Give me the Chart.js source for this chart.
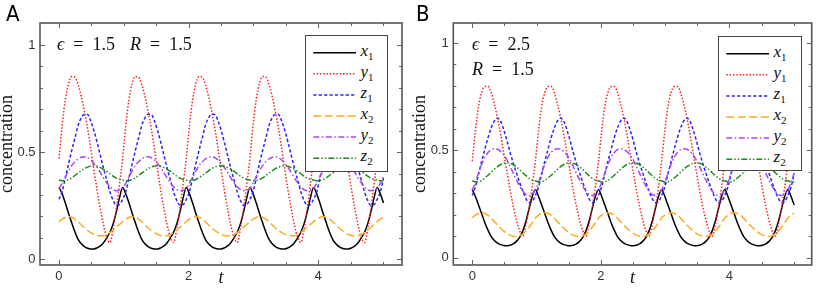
<!DOCTYPE html>
<html>
<head>
<meta charset="utf-8">
<script src="https://cdn.jsdelivr.net/npm/chart.js@4.4.1/dist/chart.umd.min.js"></script>
<style>
  html, body { margin: 0; padding: 0; background: #fff; }
  body { width: 817px; height: 288px; position: relative; overflow: hidden; }
  .panel { position: absolute; top: 0; height: 288px; }
  .panel canvas { position: absolute; left: 0; top: 0; }
  .tag { position: absolute; left: 6px; top: 3px; font: 22px/22px 'Liberation Sans Narrow', 'DejaVu Sans Condensed', 'Liberation Sans', sans-serif; color: #000; }
  .note { position: absolute; font: 18px/18px 'Liberation Serif', serif; color: #111; white-space: nowrap; }
  .legend { position: absolute; box-sizing: border-box; background: #fff; border: 1.5px solid #444; }
  .legend svg { position: absolute; }
  .legend .lab { position: absolute; font: italic 17px/17px 'Liberation Serif', serif; color: #111; white-space: nowrap; }
  .legend .lab sub { font-style: normal; font-size: 11px; vertical-align: -4px; line-height: 0; }
</style>
</head>
<body>
<div class="panel" style="left:0;width:410px">
  <canvas id="chartA" width="410" height="288"></canvas>
  <div class="tag">A</div>
  <div class="note" style="left:57px;top:35px"><i>ϵ</i>&ensp;=&ensp;1.5</div>
  <div class="note" style="left:130px;top:35px"><i>R</i>&ensp;=&ensp;1.5</div>
  <div class="legend" id="legendA" style="left:305px;top:35px;width:83px;height:137px"></div>
</div>
<div class="panel" style="left:410px;width:407px">
  <canvas id="chartB" width="407" height="288"></canvas>
  <div class="tag">B</div>
  <div class="note" style="left:62px;top:35px"><i>ϵ</i>&ensp;=&ensp;2.5</div>
  <div class="note" style="left:62px;top:60px"><i>R</i>&ensp;=&ensp;1.5</div>
  <div class="legend" id="legendB" style="left:308px;top:36px;width:84px;height:135px"></div>
</div>
<script>
// time samples (t)
const t = [
  0, 0.049, 0.098, 0.147, 0.196, 0.246, 0.295, 0.344, 0.393, 0.442, 0.491, 0.540, 0.589, 0.638, 0.687, 0.737, 0.786, 0.835, 0.884, 0.933,
  0.982, 1.031, 1.080, 1.129, 1.178, 1.228, 1.277, 1.326, 1.375, 1.424, 1.473, 1.522, 1.571, 1.620, 1.669, 1.719, 1.768, 1.817, 1.866, 1.915,
  1.964, 2.013, 2.062, 2.111, 2.160, 2.210, 2.259, 2.308, 2.357, 2.406, 2.455, 2.504, 2.553, 2.602, 2.651, 2.701, 2.750, 2.799, 2.848, 2.897,
  2.946, 2.995, 3.044, 3.093, 3.142, 3.192, 3.241, 3.290, 3.339, 3.388, 3.437, 3.486, 3.535, 3.584, 3.633, 3.683, 3.732, 3.781, 3.830, 3.879,
  3.928, 3.977, 4.026, 4.075, 4.124, 4.174, 4.223, 4.272, 4.321, 4.370, 4.419, 4.468, 4.517, 4.566, 4.615, 4.665, 4.714, 4.763, 4.812, 4.861,
  4.910, 4.959, 5.008
]

// panel A: epsilon = 1.5, R = 1.5
const x1A = [
  0.335, 0.305, 0.262, 0.215, 0.170, 0.127, 0.093, 0.072, 0.059, 0.051, 0.048, 0.048, 0.053, 0.062, 0.077, 0.100, 0.126, 0.165, 0.220, 0.285,
  0.335, 0.305, 0.262, 0.215, 0.170, 0.127, 0.093, 0.072, 0.059, 0.051, 0.048, 0.048, 0.053, 0.062, 0.077, 0.100, 0.126, 0.165, 0.220, 0.285,
  0.335, 0.305, 0.262, 0.215, 0.170, 0.127, 0.093, 0.072, 0.059, 0.051, 0.048, 0.048, 0.053, 0.062, 0.077, 0.100, 0.126, 0.165, 0.220, 0.285,
  0.335, 0.305, 0.262, 0.215, 0.170, 0.127, 0.093, 0.072, 0.059, 0.051, 0.048, 0.048, 0.053, 0.062, 0.077, 0.100, 0.126, 0.165, 0.220, 0.285,
  0.335, 0.305, 0.262, 0.215, 0.170, 0.127, 0.093, 0.072, 0.059, 0.051, 0.048, 0.048, 0.053, 0.062, 0.077, 0.100, 0.126, 0.165, 0.220, 0.285,
  0.335, 0.305, 0.262
]
const y1A = [
  0.470, 0.625, 0.745, 0.820, 0.853, 0.850, 0.815, 0.760, 0.690, 0.610, 0.515, 0.415, 0.320, 0.235, 0.160, 0.100, 0.078, 0.140, 0.235, 0.350,
  0.470, 0.625, 0.745, 0.820, 0.853, 0.850, 0.815, 0.760, 0.690, 0.610, 0.515, 0.415, 0.320, 0.235, 0.160, 0.100, 0.078, 0.140, 0.235, 0.350,
  0.470, 0.625, 0.745, 0.820, 0.853, 0.850, 0.815, 0.760, 0.690, 0.610, 0.515, 0.415, 0.320, 0.235, 0.160, 0.100, 0.078, 0.140, 0.235, 0.350,
  0.470, 0.625, 0.745, 0.820, 0.853, 0.850, 0.815, 0.760, 0.690, 0.610, 0.515, 0.415, 0.320, 0.235, 0.160, 0.100, 0.078, 0.140, 0.235, 0.350,
  0.470, 0.625, 0.745, 0.820, 0.853, 0.850, 0.815, 0.760, 0.690, 0.610, 0.515, 0.415, 0.320, 0.235, 0.160, 0.100, 0.078, 0.140, 0.235, 0.350,
  0.470, 0.625, 0.745
]
const z1A = [
  0.280, 0.315, 0.380, 0.445, 0.507, 0.565, 0.625, 0.660, 0.677, 0.676, 0.645, 0.600, 0.545, 0.485, 0.425, 0.370, 0.315, 0.275, 0.252, 0.255,
  0.280, 0.315, 0.380, 0.445, 0.507, 0.565, 0.625, 0.660, 0.677, 0.676, 0.645, 0.600, 0.545, 0.485, 0.425, 0.370, 0.315, 0.275, 0.252, 0.255,
  0.280, 0.315, 0.380, 0.445, 0.507, 0.565, 0.625, 0.660, 0.677, 0.676, 0.645, 0.600, 0.545, 0.485, 0.425, 0.370, 0.315, 0.275, 0.252, 0.255,
  0.280, 0.315, 0.380, 0.445, 0.507, 0.565, 0.625, 0.660, 0.677, 0.676, 0.645, 0.600, 0.545, 0.485, 0.425, 0.370, 0.315, 0.275, 0.252, 0.255,
  0.280, 0.315, 0.380, 0.445, 0.507, 0.565, 0.625, 0.660, 0.677, 0.676, 0.645, 0.600, 0.545, 0.485, 0.425, 0.370, 0.315, 0.275, 0.252, 0.255,
  0.280, 0.315, 0.380
]
const x2A = [
  0.175, 0.187, 0.195, 0.199, 0.196, 0.187, 0.175, 0.160, 0.146, 0.134, 0.124, 0.116, 0.111, 0.109, 0.110, 0.115, 0.124, 0.136, 0.149, 0.162,
  0.175, 0.187, 0.195, 0.199, 0.196, 0.187, 0.175, 0.160, 0.146, 0.134, 0.124, 0.116, 0.111, 0.109, 0.110, 0.115, 0.124, 0.136, 0.149, 0.162,
  0.175, 0.187, 0.195, 0.199, 0.196, 0.187, 0.175, 0.160, 0.146, 0.134, 0.124, 0.116, 0.111, 0.109, 0.110, 0.115, 0.124, 0.136, 0.149, 0.162,
  0.175, 0.187, 0.195, 0.199, 0.196, 0.187, 0.175, 0.160, 0.146, 0.134, 0.124, 0.116, 0.111, 0.109, 0.110, 0.115, 0.124, 0.136, 0.149, 0.162,
  0.175, 0.187, 0.195, 0.199, 0.196, 0.187, 0.175, 0.160, 0.146, 0.134, 0.124, 0.116, 0.111, 0.109, 0.110, 0.115, 0.124, 0.136, 0.149, 0.162,
  0.175, 0.187, 0.195
]
const y2A = [
  0.330, 0.355, 0.385, 0.412, 0.437, 0.455, 0.468, 0.476, 0.478, 0.474, 0.463, 0.447, 0.428, 0.405, 0.380, 0.357, 0.338, 0.325, 0.320, 0.322,
  0.330, 0.355, 0.385, 0.412, 0.437, 0.455, 0.468, 0.476, 0.478, 0.474, 0.463, 0.447, 0.428, 0.405, 0.380, 0.357, 0.338, 0.325, 0.320, 0.322,
  0.330, 0.355, 0.385, 0.412, 0.437, 0.455, 0.468, 0.476, 0.478, 0.474, 0.463, 0.447, 0.428, 0.405, 0.380, 0.357, 0.338, 0.325, 0.320, 0.322,
  0.330, 0.355, 0.385, 0.412, 0.437, 0.455, 0.468, 0.476, 0.478, 0.474, 0.463, 0.447, 0.428, 0.405, 0.380, 0.357, 0.338, 0.325, 0.320, 0.322,
  0.330, 0.355, 0.385, 0.412, 0.437, 0.455, 0.468, 0.476, 0.478, 0.474, 0.463, 0.447, 0.428, 0.405, 0.380, 0.357, 0.338, 0.325, 0.320, 0.322,
  0.330, 0.355, 0.385
]
const z2A = [
  0.370, 0.366, 0.367, 0.372, 0.380, 0.391, 0.402, 0.413, 0.423, 0.430, 0.435, 0.436, 0.434, 0.428, 0.420, 0.410, 0.399, 0.388, 0.379, 0.373,
  0.370, 0.366, 0.367, 0.372, 0.380, 0.391, 0.402, 0.413, 0.423, 0.430, 0.435, 0.436, 0.434, 0.428, 0.420, 0.410, 0.399, 0.388, 0.379, 0.373,
  0.370, 0.366, 0.367, 0.372, 0.380, 0.391, 0.402, 0.413, 0.423, 0.430, 0.435, 0.436, 0.434, 0.428, 0.420, 0.410, 0.399, 0.388, 0.379, 0.373,
  0.370, 0.366, 0.367, 0.372, 0.380, 0.391, 0.402, 0.413, 0.423, 0.430, 0.435, 0.436, 0.434, 0.428, 0.420, 0.410, 0.399, 0.388, 0.379, 0.373,
  0.370, 0.366, 0.367, 0.372, 0.380, 0.391, 0.402, 0.413, 0.423, 0.430, 0.435, 0.436, 0.434, 0.428, 0.420, 0.410, 0.399, 0.388, 0.379, 0.373,
  0.370, 0.366, 0.367
]

// panel B: epsilon = 2.5, R = 1.5
const x1B = [
  0.318, 0.285, 0.245, 0.205, 0.163, 0.127, 0.098, 0.080, 0.068, 0.061, 0.057, 0.056, 0.058, 0.064, 0.076, 0.095, 0.125, 0.170, 0.228, 0.285,
  0.318, 0.285, 0.245, 0.205, 0.163, 0.127, 0.098, 0.080, 0.068, 0.061, 0.057, 0.056, 0.058, 0.064, 0.076, 0.095, 0.125, 0.170, 0.228, 0.285,
  0.318, 0.285, 0.245, 0.205, 0.163, 0.127, 0.098, 0.080, 0.068, 0.061, 0.057, 0.056, 0.058, 0.064, 0.076, 0.095, 0.125, 0.170, 0.228, 0.285,
  0.318, 0.285, 0.245, 0.205, 0.163, 0.127, 0.098, 0.080, 0.068, 0.061, 0.057, 0.056, 0.058, 0.064, 0.076, 0.095, 0.125, 0.170, 0.228, 0.285,
  0.318, 0.285, 0.245, 0.205, 0.163, 0.127, 0.098, 0.080, 0.068, 0.061, 0.057, 0.056, 0.058, 0.064, 0.076, 0.095, 0.125, 0.170, 0.228, 0.285,
  0.318, 0.285, 0.245
]
const y1B = [
  0.450, 0.590, 0.705, 0.770, 0.797, 0.797, 0.768, 0.715, 0.650, 0.575, 0.485, 0.400, 0.315, 0.240, 0.175, 0.125, 0.100, 0.155, 0.235, 0.330,
  0.450, 0.590, 0.705, 0.770, 0.797, 0.797, 0.768, 0.715, 0.650, 0.575, 0.485, 0.400, 0.315, 0.240, 0.175, 0.125, 0.100, 0.155, 0.235, 0.330,
  0.450, 0.590, 0.705, 0.770, 0.797, 0.797, 0.768, 0.715, 0.650, 0.575, 0.485, 0.400, 0.315, 0.240, 0.175, 0.125, 0.100, 0.155, 0.235, 0.330,
  0.450, 0.590, 0.705, 0.770, 0.797, 0.797, 0.768, 0.715, 0.650, 0.575, 0.485, 0.400, 0.315, 0.240, 0.175, 0.125, 0.100, 0.155, 0.235, 0.330,
  0.450, 0.590, 0.705, 0.770, 0.797, 0.797, 0.768, 0.715, 0.650, 0.575, 0.485, 0.400, 0.315, 0.240, 0.175, 0.125, 0.100, 0.155, 0.235, 0.330,
  0.450, 0.590, 0.705
]
const z1B = [
  0.290, 0.330, 0.390, 0.450, 0.505, 0.560, 0.605, 0.637, 0.650, 0.635, 0.595, 0.545, 0.490, 0.440, 0.395, 0.350, 0.310, 0.275, 0.257, 0.262,
  0.290, 0.330, 0.390, 0.450, 0.505, 0.560, 0.605, 0.637, 0.650, 0.635, 0.595, 0.545, 0.490, 0.440, 0.395, 0.350, 0.310, 0.275, 0.257, 0.262,
  0.290, 0.330, 0.390, 0.450, 0.505, 0.560, 0.605, 0.637, 0.650, 0.635, 0.595, 0.545, 0.490, 0.440, 0.395, 0.350, 0.310, 0.275, 0.257, 0.262,
  0.290, 0.330, 0.390, 0.450, 0.505, 0.560, 0.605, 0.637, 0.650, 0.635, 0.595, 0.545, 0.490, 0.440, 0.395, 0.350, 0.310, 0.275, 0.257, 0.262,
  0.290, 0.330, 0.390, 0.450, 0.505, 0.560, 0.605, 0.637, 0.650, 0.635, 0.595, 0.545, 0.490, 0.440, 0.395, 0.350, 0.310, 0.275, 0.257, 0.262,
  0.290, 0.330, 0.390
]
const x2B = [
  0.185, 0.198, 0.206, 0.209, 0.206, 0.197, 0.184, 0.168, 0.152, 0.137, 0.124, 0.113, 0.105, 0.100, 0.099, 0.102, 0.110, 0.124, 0.142, 0.163,
  0.185, 0.198, 0.206, 0.209, 0.206, 0.197, 0.184, 0.168, 0.152, 0.137, 0.124, 0.113, 0.105, 0.100, 0.099, 0.102, 0.110, 0.124, 0.142, 0.163,
  0.185, 0.198, 0.206, 0.209, 0.206, 0.197, 0.184, 0.168, 0.152, 0.137, 0.124, 0.113, 0.105, 0.100, 0.099, 0.102, 0.110, 0.124, 0.142, 0.163,
  0.185, 0.198, 0.206, 0.209, 0.206, 0.197, 0.184, 0.168, 0.152, 0.137, 0.124, 0.113, 0.105, 0.100, 0.099, 0.102, 0.110, 0.124, 0.142, 0.163,
  0.185, 0.198, 0.206, 0.209, 0.206, 0.197, 0.184, 0.168, 0.152, 0.137, 0.124, 0.113, 0.105, 0.100, 0.099, 0.102, 0.110, 0.124, 0.142, 0.163,
  0.185, 0.198, 0.206
]
const y2B = [
  0.316, 0.350, 0.395, 0.435, 0.468, 0.490, 0.503, 0.507, 0.505, 0.494, 0.478, 0.455, 0.425, 0.393, 0.362, 0.333, 0.310, 0.295, 0.290, 0.296,
  0.316, 0.350, 0.395, 0.435, 0.468, 0.490, 0.503, 0.507, 0.505, 0.494, 0.478, 0.455, 0.425, 0.393, 0.362, 0.333, 0.310, 0.295, 0.290, 0.296,
  0.316, 0.350, 0.395, 0.435, 0.468, 0.490, 0.503, 0.507, 0.505, 0.494, 0.478, 0.455, 0.425, 0.393, 0.362, 0.333, 0.310, 0.295, 0.290, 0.296,
  0.316, 0.350, 0.395, 0.435, 0.468, 0.490, 0.503, 0.507, 0.505, 0.494, 0.478, 0.455, 0.425, 0.393, 0.362, 0.333, 0.310, 0.295, 0.290, 0.296,
  0.316, 0.350, 0.395, 0.435, 0.468, 0.490, 0.503, 0.507, 0.505, 0.494, 0.478, 0.455, 0.425, 0.393, 0.362, 0.333, 0.310, 0.295, 0.290, 0.296,
  0.316, 0.350, 0.395
]
const z2B = [
  0.358, 0.353, 0.354, 0.360, 0.371, 0.384, 0.398, 0.412, 0.424, 0.434, 0.440, 0.442, 0.440, 0.433, 0.423, 0.410, 0.396, 0.382, 0.370, 0.362,
  0.358, 0.353, 0.354, 0.360, 0.371, 0.384, 0.398, 0.412, 0.424, 0.434, 0.440, 0.442, 0.440, 0.433, 0.423, 0.410, 0.396, 0.382, 0.370, 0.362,
  0.358, 0.353, 0.354, 0.360, 0.371, 0.384, 0.398, 0.412, 0.424, 0.434, 0.440, 0.442, 0.440, 0.433, 0.423, 0.410, 0.396, 0.382, 0.370, 0.362,
  0.358, 0.353, 0.354, 0.360, 0.371, 0.384, 0.398, 0.412, 0.424, 0.434, 0.440, 0.442, 0.440, 0.433, 0.423, 0.410, 0.396, 0.382, 0.370, 0.362,
  0.358, 0.353, 0.354, 0.360, 0.371, 0.384, 0.398, 0.412, 0.424, 0.434, 0.440, 0.442, 0.440, 0.433, 0.423, 0.410, 0.396, 0.382, 0.370, 0.362,
  0.358, 0.353, 0.354
]

const seriesNames = ['x1', 'y1', 'z1', 'x2', 'y2', 'z2']
const xTicks = [0, 2, 4]
const yTicks = [0, 0.5, 1]

// line styles per series
const lineColors = ['#000000', '#ff2020', '#2626ff', '#ffaa22', '#aa46ee', '#1f8c1f']
const lineDash = [[], [1.5, 1.8], [3.2, 2.2], [8, 3.5], [6, 2.5, 1.5, 2.5], [6, 2, 1.5, 2, 1.5, 2]]

// inward frame ticks, like a Mathematica frame
const frameTicks = {
  id: 'frameTicks',
  afterDatasetsDraw(chart) {
    const { ctx, chartArea: a, scales: { x, y } } = chart
    ctx.save()
    ctx.strokeStyle = '#666'
    ctx.lineWidth = 1
    ctx.beginPath()
    for (let i = 0; i <= 10; i++) {
      const v = i / 2
      const px = Math.round(x.getPixelForValue(v)) + 0.5
      const len = xTicks.includes(v) ? 5 : 3
      ctx.moveTo(px, a.bottom); ctx.lineTo(px, a.bottom - len)
      ctx.moveTo(px, a.top); ctx.lineTo(px, a.top + len)
    }
    for (let i = 0; i <= 10; i++) {
      const v = i / 10
      const py = Math.round(y.getPixelForValue(v)) + 0.5
      const len = yTicks.includes(v) ? 5 : 3
      ctx.moveTo(a.left, py); ctx.lineTo(a.left + len, py)
      ctx.moveTo(a.right, py); ctx.lineTo(a.right - len, py)
    }
    ctx.stroke()
    ctx.strokeStyle = '#555'
    ctx.lineWidth = 1.6
    ctx.strokeRect(a.left, a.top, a.width, a.height)
    ctx.restore()
  }
}

// legend box as html, built from the datasets
const htmlLegend = {
  id: 'htmlLegend',
  afterUpdate(chart, args, opts) {
    const box = document.getElementById(opts.containerID)
    const w = box.offsetWidth, h = box.offsetHeight
    let svg = `<svg width="${w}" height="${h}" style="left:-1.5px;top:-1.5px">`
    let labels = ''
    chart.data.datasets.forEach((ds, i) => {
      const y = 17.7 + 21.1 * i
      const dash = ds.borderDash.length ? ds.borderDash.join(' ') : 'none'
      svg += `<line x1="8.3" x2="51" y1="${y}" y2="${y}" stroke="${ds.borderColor}" stroke-width="${ds.borderWidth}" stroke-dasharray="${dash}"/>`
      labels += `<span class="lab" style="left:54.5px;top:${y - 12.2}px">${ds.label[0]}<sub>${ds.label.slice(1)}</sub></span>`
    })
    box.innerHTML = svg + '</svg>' + labels
  }
}

function makeChart(canvasId, legendId, series, o) {
  const datasets = series.map((vals, i) => ({
    label: seriesNames[i],
    data: vals.map((v, k) => ({ x: t[k], y: v })),
    borderColor: lineColors[i],
    borderDash: lineDash[i],
    borderWidth: 1.5,
    pointRadius: 0,
    fill: false,
    cubicInterpolationMode: 'monotone',
    order: series.length - i
  }))

  return new Chart(document.getElementById(canvasId), {
    type: 'line',
    data: { datasets },
    options: {
      responsive: false,
      animation: false,
      devicePixelRatio: 1,
      layout: { padding: { top: 23, right: o.padRight, left: 0, bottom: 0 } },
      plugins: {
        legend: { display: false },
        tooltip: { enabled: false },
        htmlLegend: { containerID: legendId }
      },
      scales: {
        x: {
          type: 'linear',
          min: o.xMin,
          max: o.xMax,
          grid: { display: false, drawTicks: false },
          border: { display: false },
          afterBuildTicks: s => { s.ticks = xTicks.map(v => ({ value: v })) },
          afterFit: s => { s.height = 23 },
          ticks: {
            autoSkip: false,
            maxRotation: 0,
            padding: 4,
            color: '#333',
            font: { family: 'Liberation Sans', size: 13 },
            callback: v => String(v)
          },
          title: {
            display: true,
            text: 't',
            color: '#111',
            font: { family: 'Liberation Serif', size: 18, style: 'italic' },
            padding: { top: 0, bottom: -1 }
          }
        },
        y: {
          min: o.yMin,
          max: o.yMax,
          grid: { display: false, drawTicks: false },
          border: { display: false },
          afterBuildTicks: s => { s.ticks = yTicks.map(v => ({ value: v })) },
          afterFit: s => { s.width = o.left },
          ticks: {
            padding: 4.5,
            color: '#333',
            font: { family: 'Liberation Sans', size: 13 },
            callback: v => String(v)
          },
          title: {
            display: true,
            text: 'concentration',
            color: '#111',
            font: { family: 'Liberation Serif', size: 18 },
            padding: { top: o.titlePad, bottom: 0 }
          }
        }
      }
    },
    plugins: [frameTicks, htmlLegend]
  })
}

makeChart('chartA', 'legendA', [x1A, y1A, z1A, x2A, y2A, z2A],
  { xMin: -0.293, xMax: 5.293, yMin: -0.027, yMax: 1.103, left: 40, padRight: 8, titlePad: -3.6 })
makeChart('chartB', 'legendB', [x1B, y1B, z1B, x2B, y2B, z2B],
  { xMin: -0.295, xMax: 5.28, yMin: -0.034, yMax: 1.093, left: 43.3, padRight: 5.3, titlePad: -0.2 })
</script>
</body>
</html>
